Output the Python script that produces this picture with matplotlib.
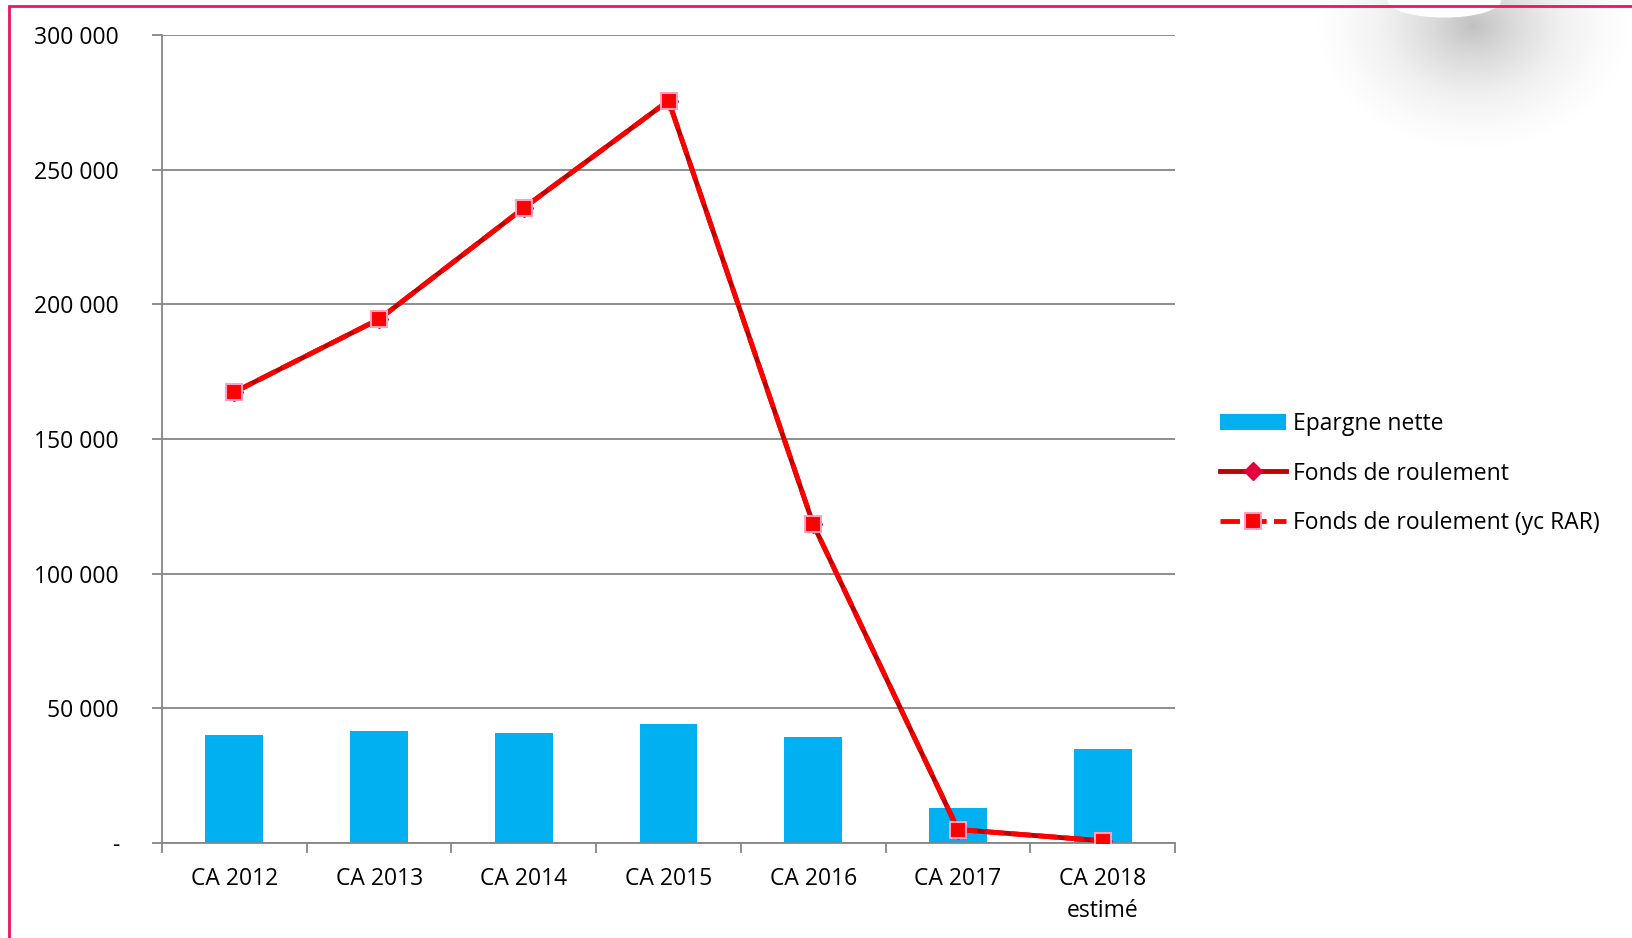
import numpy as np
import matplotlib.pyplot as plt
from matplotlib.lines import Line2D
from matplotlib.patches import Patch, Rectangle, Ellipse

plt.rcParams["font.family"] = ["Open Sans", "DejaVu Sans"]

# Données
categories = ["CA 2012", "CA 2013", "CA 2014", "CA 2015", "CA 2016", "CA 2017", "CA 2018\nestimé"]
epargne_nette = [40200, 41400, 41000, 44100, 39400, 13100, 34800]
fonds_roulement = [167400, 194500, 235800, 275600, 118300, 5000, 800]
fonds_roulement_rar = [167400, 194500, 235800, 275600, 118300, 5000, 800]
yticks = [0, 50000, 100000, 150000, 200000, 250000, 300000]
ytick_labels = ["-", "50 000", "100 000", "150 000", "200 000", "250 000", "300 000"]

FS = 16.5

fig = plt.figure(figsize=(16.32, 9.38), dpi=100)

# ombre grise décorative en haut à droite
blob = fig.add_axes([0.77, 0.82, 0.23, 0.18])
gx, gy = np.meshgrid(np.linspace(-1, 1, 300), np.linspace(1, -1, 200))
r = np.sqrt(((gx - 0.15) / 0.85) ** 2 + ((gy - 0.7) / 1.5) ** 2)
g = np.clip(1 - r, 0, 1) ** 1.3
blob.imshow(g, cmap="Greys", vmin=0, vmax=2.8, aspect="auto", interpolation="bilinear",
            extent=(0, 1, 0, 1))
blob.add_patch(Ellipse((0.5, 1.0), 0.3, 0.2, color="white"))
blob.set_xlim(0, 1)
blob.set_ylim(0, 1)
blob.axis("off")

# cadre rose
fig.patches.append(Rectangle((9 / 1632, -0.05), 1.2, 1 - 6 / 938 + 0.05, transform=fig.transFigure,
                             fill=False, edgecolor="#E8175D", linewidth=2, zorder=5))

ax = fig.add_axes([0.0993, 0.1013, 0.6207, 0.8614])
x = np.arange(len(categories))

ax.bar(x, epargne_nette, width=0.4, color="#00B0F0", zorder=2)
ax.plot(x, fonds_roulement, color="#C00000", linewidth=3.5, marker="D", markersize=9,
        markerfacecolor="#E4003A", markeredgecolor="#E4003A", zorder=3)
ax.plot(x, fonds_roulement_rar, color="#FF0000", linewidth=3.5, linestyle=(0, (4, 1.5)),
        marker="s", markersize=12, markerfacecolor="#FF0000", markeredgecolor="#FFA0C0",
        markeredgewidth=1.5, zorder=4)

ax.set_xlim(-0.5, len(categories) - 0.5)
ax.set_ylim(0, 300000)
ax.set_yticks(yticks)
ax.set_yticklabels(ytick_labels, fontsize=FS)
ax.set_xticks(x)
ax.set_xticklabels(categories, fontsize=FS, linespacing=1.45)
ax.set_xticks(np.arange(-0.5, len(categories)), minor=True)
ax.tick_params(axis="x", which="major", length=0, pad=17)
ax.tick_params(axis="x", which="minor", length=7, color="#868686", width=1.3)
ax.tick_params(axis="y", length=7, color="#868686", width=1.3, pad=24)

ax.grid(axis="y", color="#868686", linewidth=1.3, zorder=0)
ax.set_axisbelow(True)
for s in ["top", "right"]:
    ax.spines[s].set_visible(False)
for s in ["left", "bottom"]:
    ax.spines[s].set_color("#868686")
    ax.spines[s].set_linewidth(1.3)

handles = [
    Patch(facecolor="#00B0F0"),
    Line2D([], [], color="#C00000", linewidth=3.5, marker="D", markersize=9,
           markerfacecolor="#E4003A", markeredgecolor="#E4003A"),
    Line2D([], [], color="#FF0000", linewidth=3.5, linestyle=(0, (4, 1.5)), marker="s",
           markersize=12, markerfacecolor="#FF0000", markeredgecolor="#FFA0C0", markeredgewidth=1.5),
]
labels = ["Epargne nette", "Fonds de roulement", "Fonds de roulement (yc RAR)"]
fig.legend(handles, labels, loc="center left", bbox_to_anchor=(0.7475, 0.495), frameon=False,
           fontsize=FS, handlelength=2.9, handleheight=0.75, labelspacing=1.12, handletextpad=0.3,
           borderpad=0, borderaxespad=0)

fig.savefig("out.png", dpi=100)
